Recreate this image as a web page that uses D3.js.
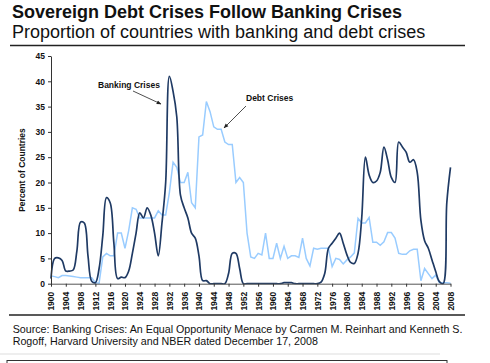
<!DOCTYPE html>
<html>
<head>
<meta charset="utf-8">
<script src="https://cdn.jsdelivr.net/npm/d3@7"></script>
<style>
  body { margin: 0; background: #fff; }
  svg { display: block; font-family: Arial, "Liberation Sans", sans-serif; }
</style>
</head>
<body>
<svg id="chart" width="490" height="363"></svg>
<script>
// years 1900..2008
const years = d3.range(1900, 2009);

// percent of countries with banking crises
const bankingCrises = [
  1.0, 5.0, 5.1, 4.6, 2.5, 2.5, 2.7, 6.5, 12.2, 12.0,   // 1900s
  5.5, 0.5, 0.2, 3.0, 9.5, 17.0, 16.0, 8.0, 1.0, 1.3,   // 1910s
  1.2, 2.5, 6.0, 10.0, 14.0, 13.0, 15.0, 13.5, 10.0, 5.5, // 1920s
  12.0, 20.0, 41.0, 38.0, 33.0, 17.5, 15.0, 13.0, 10.0, 9.0, // 1930s
  5.5, 0.6, 0.6, 0, 0, 0, 0, 0, 2.0, 6.0,               // 1940s
  6.0, 3.0, 0, 0, 0, 0, 0, 0, 0, 0,                     // 1950s
  0, 0, 0, 0.2, 0.2, 0.2, 0, 0, 0, 0,                   // 1960s
  0, 0, 0, 0.3, 2.0, 7.0, 8.0, 9.0, 10.0, 8.0,          // 1970s
  5.7, 4.2, 4.0, 6.0, 13.0, 25.0, 21.5, 20.0, 20.3, 22.0, // 1980s
  27.0, 24.5, 21.0, 20.0, 28.0, 27.0, 26.0, 24.0, 24.5, 22.0, // 1990s
  12.5, 8.5, 7.0, 4.7, 2.4, 0.4, 0, 16.0, 23.0          // 2000s
];

// percent of countries with sovereign debt crises
const debtCrises = [
  1.5, 1.4, 1.2, 1.6, 1.6, 1.5, 1.4, 1.3, 1.2, 1.2,
  1.2, 1.2, 0.2, 0.1, 5.3, 6.0, 5.5, 5.5, 10.0, 10.0,
  7.0, 10.5, 15.0, 14.7, 13.0, 13.0, 13.0, 13.0, 13.0, 14.4,
  13.6, 13.6, 18.0, 24.0, 23.0, 20.0, 20.0, 22.0, 16.0, 15.0,
  29.0, 29.4, 36.0, 34.0, 31.0, 30.5, 30.5, 28.0, 27.5, 27.5,
  20.0, 21.0, 20.0, 10.0, 5.3, 5.0, 6.0, 5.7, 10.0, 5.0,
  5.0, 8.0, 5.0, 7.4, 5.0, 5.5, 5.5, 5.2, 9.0, 5.0,
  3.5, 7.0, 6.8, 7.0, 7.0, 7.0, 3.4, 5.0, 4.8, 3.9,
  4.7, 5.3, 6.1, 12.9, 12.0, 12.0, 13.1, 8.2, 8.2, 7.6,
  8.3, 10.1, 10.1, 9.0, 6.0, 5.8, 5.8, 6.5, 6.8, 6.8,
  0.6, 3.0, 2.0, 1.0, 1.7, 0.2, 0.2, 0.2, 0.1
];

const yTicks = d3.range(0, 46, 5);
const xTickYears = years.filter(d => (d - 1900) % 4 === 0);

const svg = d3.select("#chart");
const x = d3.scalePoint().domain(years).range([51, 450.5]);
const y = d3.scaleLinear().domain([0, 45]).range([283.7, 56]);

// titles
svg.append("text").attr("x", 12).attr("y", 18)
  .style("font-size", "18px").style("font-weight", "bold").attr("fill", "#111")
  .text("Sovereign Debt Crises Follow Banking Crises");
svg.append("text").attr("x", 12).attr("y", 38)
  .style("font-size", "18px").attr("fill", "#111")
  .text("Proportion of countries with banking and debt crises");
svg.append("line").attr("x1", 10).attr("x2", 465).attr("y1", 45.5).attr("y2", 45.5)
  .attr("stroke", "#222").attr("stroke-width", 1.5);

// clip so smoothed curve can't dip below the axis
svg.append("clipPath").attr("id", "plotclip")
  .append("rect").attr("x", 45).attr("y", 50).attr("width", 415).attr("height", 234.5);

const bankLine = d3.line()
  .x((d, i) => x(years[i]))
  .y(d => y(d))
  .curve(d3.curveCatmullRom.alpha(0.5));
const debtLine = d3.line()
  .x((d, i) => x(years[i]))
  .y(d => y(d));

const plot = svg.append("g").attr("clip-path", "url(#plotclip)");
plot.append("path").datum(debtCrises)
  .attr("d", debtLine).attr("fill", "none")
  .attr("stroke", "#99ccff").attr("stroke-width", 1.5);
plot.append("path").datum(bankingCrises)
  .attr("d", bankLine).attr("fill", "none")
  .attr("stroke", "#1f3a64").attr("stroke-width", 1.7);

// axes
const yAxis = svg.append("g").attr("transform", "translate(51,0)")
  .call(d3.axisLeft(y).tickValues(yTicks).tickSize(3).tickSizeOuter(0).tickPadding(3));
const xAxis = svg.append("g").attr("transform", "translate(0,283.7)")
  .call(d3.axisBottom(x).tickValues(xTickYears).tickSize(3).tickSizeOuter(0));
xAxis.selectAll("text")
  .attr("transform", "rotate(-90)")
  .attr("text-anchor", "end")
  .attr("x", -8).attr("y", 0).attr("dy", "0.35em");
[yAxis, xAxis].forEach(a => {
  a.selectAll("text").style("font-size", "8.5px").style("font-weight", "bold")
    .style("font-family", "Arial, 'Liberation Sans', sans-serif").attr("fill", "#111");
  a.selectAll("line, path").attr("stroke", "#333");
});
xAxis.select(".domain").attr("stroke", "#555");

svg.append("text")
  .attr("transform", "translate(25,170) rotate(-90)")
  .attr("text-anchor", "middle")
  .style("font-size", "8.5px").style("font-weight", "bold").attr("fill", "#111")
  .text("Percent of Countries");

// annotations
svg.append("defs").append("marker")
  .attr("id", "arrow").attr("viewBox", "0 0 10 10").attr("refX", 9).attr("refY", 5)
  .attr("markerWidth", 6).attr("markerHeight", 6).attr("orient", "auto")
  .append("path").attr("d", "M0,1 L10,5 L0,9 Z").attr("fill", "#222");

svg.append("text").attr("x", 98).attr("y", 88.3)
  .style("font-size", "8.5px").style("font-weight", "bold").attr("fill", "#111")
  .text("Banking Crises");
svg.append("line").attr("x1", 133).attr("y1", 91).attr("x2", 161).attr("y2", 104)
  .attr("stroke", "#222").attr("stroke-width", 0.8).attr("marker-end", "url(#arrow)");

svg.append("text").attr("x", 246).attr("y", 101)
  .style("font-size", "8.5px").style("font-weight", "bold").attr("fill", "#111")
  .text("Debt Crises");
svg.append("line").attr("x1", 246).attr("y1", 106).attr("x2", 224).attr("y2", 128)
  .attr("stroke", "#222").attr("stroke-width", 0.8).attr("marker-end", "url(#arrow)");

// footer
svg.append("line").attr("x1", 9).attr("x2", 465).attr("y1", 315).attr("y2", 315)
  .attr("stroke", "#222").attr("stroke-width", 1.5);
const src = svg.append("text").style("font-size", "10.7px").attr("fill", "#111");
src.append("tspan").attr("x", 12.7).attr("y", 332.7)
  .text("Source: Banking Crises: An Equal Opportunity Menace by Carmen M. Reinhart and Kenneth S.");
src.append("tspan").attr("x", 12.7).attr("y", 344.5)
  .text("Rogoff, Harvard University and NBER dated December 17, 2008");

// screenshot edge remnants at the bottom
svg.append("line").attr("x1", 0).attr("x2", 440).attr("y1", 354).attr("y2", 354)
  .attr("stroke", "#ddd").attr("stroke-width", 1);
svg.append("rect").attr("x", 7).attr("y", 360.5).attr("width", 440).attr("height", 6)
  .attr("fill", "none").attr("stroke", "#333").attr("stroke-width", 1);
</script>
</body>
</html>
